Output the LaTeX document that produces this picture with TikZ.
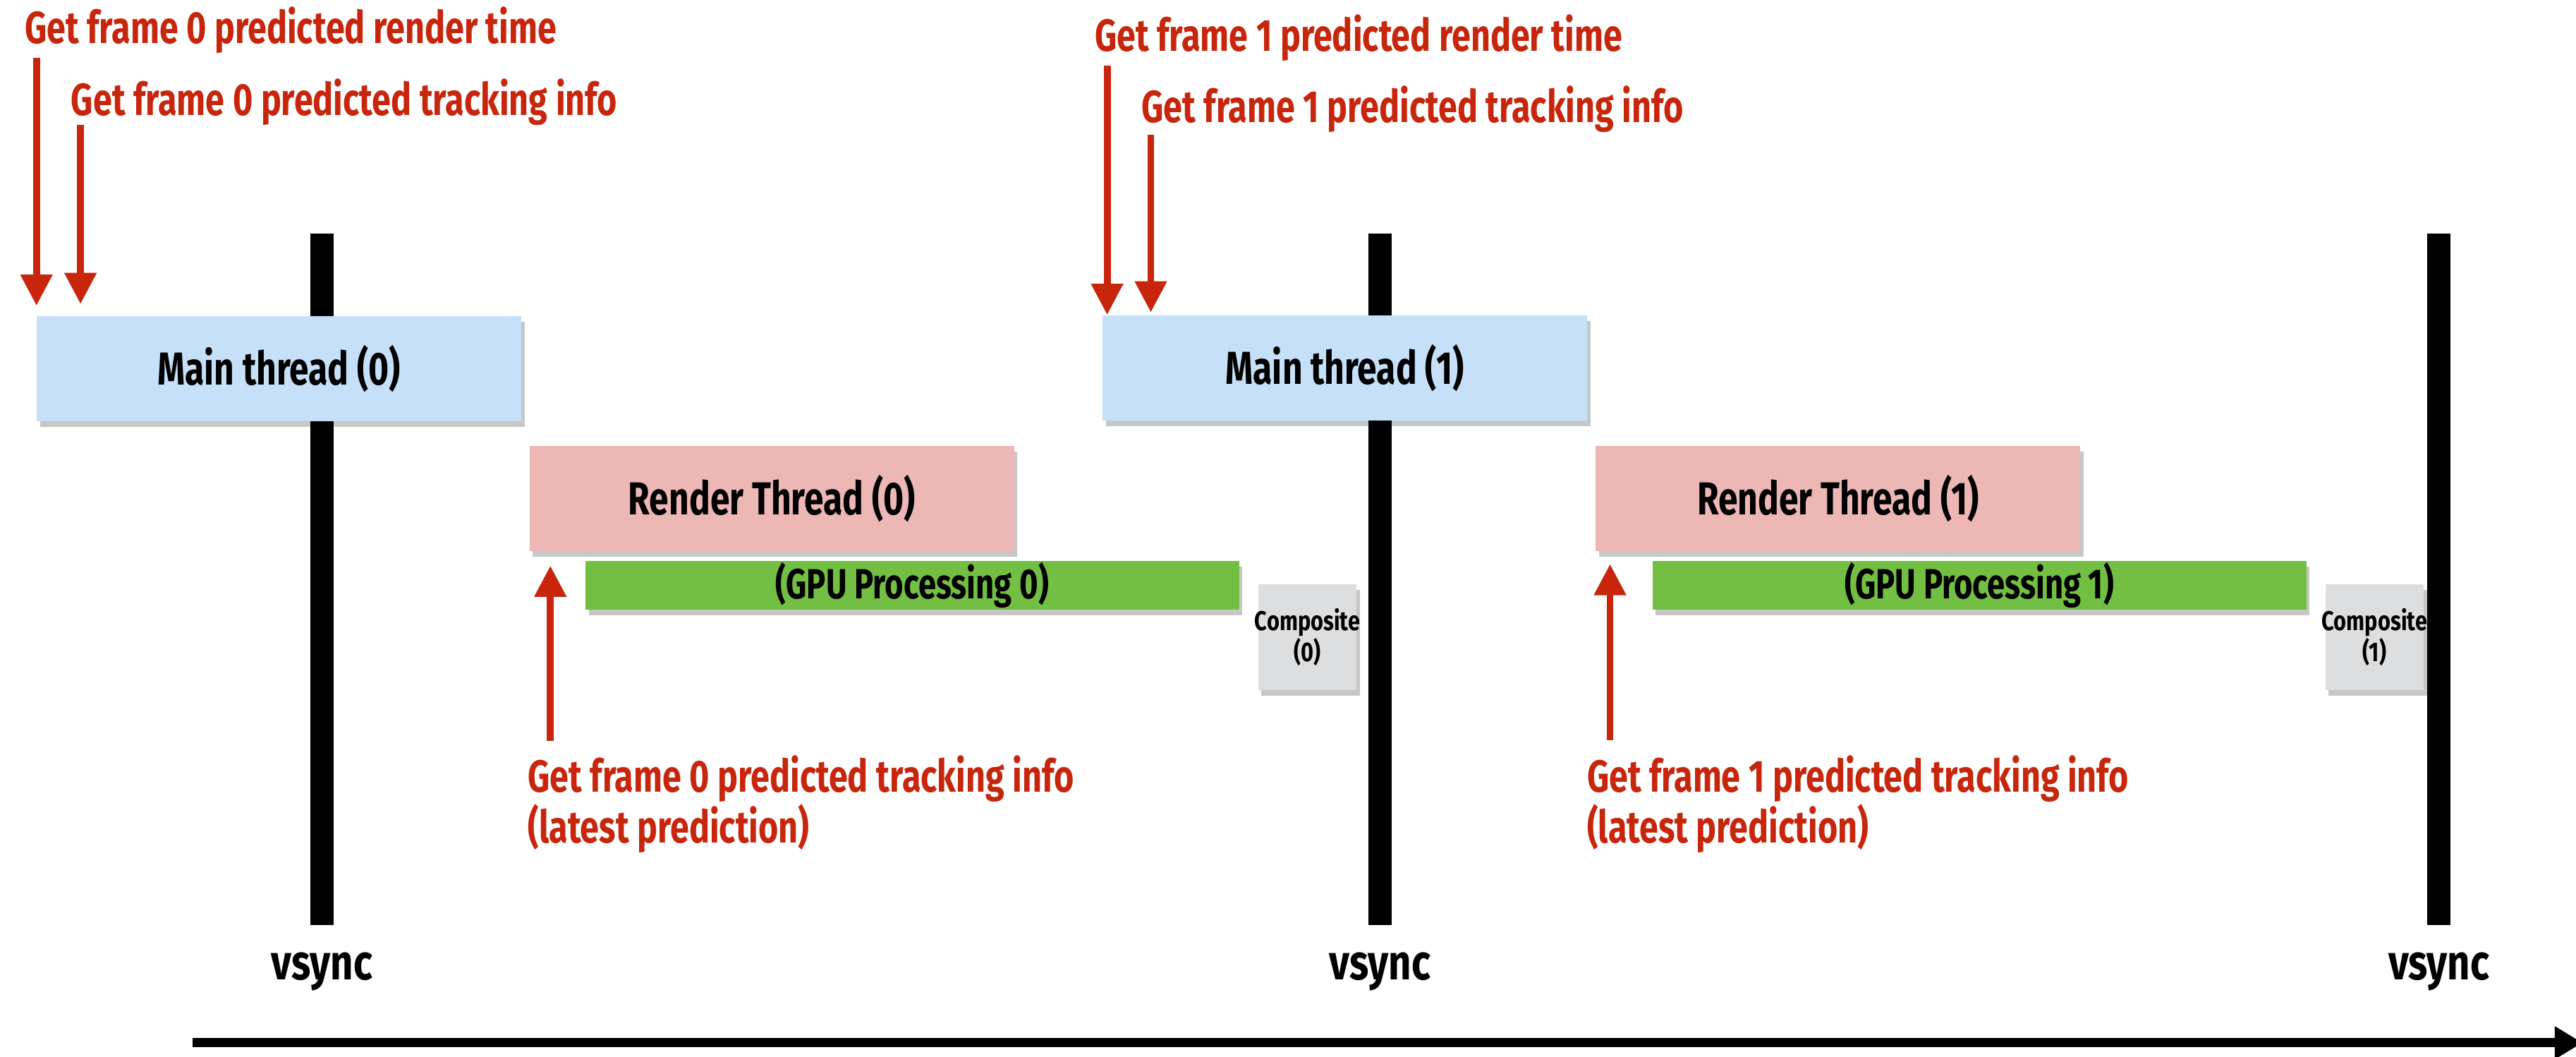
\documentclass[tikz,border=0pt]{standalone}
\usepackage{fontspec}
\setmainfont{Fira Sans}
\newfontfamily\narrowfont{Fira Sans}[FakeStretch=0.76]
\newfontfamily\widefont{Fira Sans}[FakeStretch=0.8]
\usetikzlibrary{arrows.meta, positioning, shadows}
\definecolor{predred}{RGB}{200,38,12}
\definecolor{mainblue}{RGB}{197,224,248}
\definecolor{renderpink}{RGB}{237,183,181}
\definecolor{gpugreen}{RGB}{114,191,68}
\definecolor{compgray}{RGB}{221,222,224}

\begin{document}
\begin{tikzpicture}[x=0.02cm, y=-0.02cm,
  predlbl/.style={font=\narrowfont\bfseries\fontsize{15.6}{17.6}\selectfont, text=predred, inner sep=0pt, anchor=base west, align=left},
  predarrow/.style={-{Triangle[length=10.8pt, width=10.6pt]}, line width=2.4pt, predred},
  task/.style={anchor=north west, inner sep=0pt, font=\narrowfont\bfseries\fontsize{16}{18}\selectfont,
    drop shadow={shadow xshift=0.04cm, shadow yshift=-0.07cm, fill=black, opacity=0.22}},
  mainbox/.style={task, fill=mainblue, minimum width=5.9cm, minimum height=1.28cm},
  renderbox/.style={task, fill=renderpink, minimum width=5.9cm, minimum height=1.28cm},
  gpubox/.style={task, fill=gpugreen, minimum width=7.96cm, minimum height=0.59cm, font=\narrowfont\bfseries\fontsize{14.6}{16}\selectfont},
  compbox/.style={task, fill=compgray, minimum width=1.2cm, minimum height=1.29cm, align=center, font=\widefont\bfseries\fontsize{9.4}{10.8}\selectfont},
  vbar/.style={line width=0.28cm},
  vlbl/.style={font=\widefont\bfseries\fontsize{17.2}{20}\selectfont, anchor=base, inner sep=0pt},
  timearrow/.style={-{Triangle[length=0.34cm, width=0.38cm]}, line width=3.1pt}
]
\useasboundingbox (0,0) rectangle (1568,643);

% vsync bars
\draw[vbar] (196,142) -- (196,563);
\draw[vbar] (840,142) -- (840,563);
\draw[vbar] (1484.5,142) -- (1484.5,563);
\node[vlbl] (vs0) at (196,596) {vsync};
\node[vlbl] (vs1) at (840,596) {vsync};
\node[vlbl] (vs2) at (1484.5,596) {vsync};

% frame 0
\node[mainbox] (mt0) at (22,192) {Main thread (0)};
\node[renderbox] (rt0) at (322,271) {Render Thread (0)};
\node[gpubox] (gpu0) at (356,341) {(GPU Processing 0)};
\node[compbox] (comp0) at (765.5,355) {\makebox[0pt]{Composite}\\(0)};

% frame 1
\node[mainbox] (mt1) at (670.7,191.6) {Main thread (1)};
\node[renderbox] (rt1) at (971,271) {Render Thread (1)};
\node[gpubox] (gpu1) at (1005.5,341) {(GPU Processing 1)};
\node[compbox] (comp1) at (1415,355) {\makebox[0pt]{Composite}\\(1)};

% prediction labels
\node[predlbl] (rend0) at (14.8,26.6) {Get frame 0 predicted render time};
\node[predlbl] (track0) at (43,70) {Get frame 0 predicted tracking info};
\node[predlbl] (late0) at (321,513) {Get frame 0 predicted tracking info\\(latest prediction)};
\node[predlbl] (rend1) at (666,31.2) {Get frame 1 predicted render time};
\node[predlbl] (track1) at (694.6,74.7) {Get frame 1 predicted tracking info};
\node[predlbl] (late1) at (965.7,513) {Get frame 1 predicted tracking info\\(latest prediction)};

% prediction arrows
\coordinate (rend0a) at (22.2,35);
\coordinate (track0a) at (49,76);
\coordinate (late0a) at (335,451);
\coordinate (rend1a) at (673.9,40);
\coordinate (track1a) at (700.5,82);
\coordinate (late1a) at (980,450.5);
\draw[predarrow, shorten >=0.12cm] (rend0a) -- (rend0a |- mt0.north);
\draw[predarrow, shorten >=0.14cm] (track0a) -- (track0a |- mt0.north);
\draw[predarrow, shorten >=0.17cm] (late0a) -- (late0a |- rt0.south);
\draw[predarrow] (rend1a) -- (rend1a |- mt1.north);
\draw[predarrow, shorten >=0.03cm] (track1a) -- (track1a |- mt1.north);
\draw[predarrow, shorten >=0.15cm] (late1a) -- (late1a |- rt1.south);

% time axis
\coordinate (t0) at (117,634.5);
\coordinate (t1) at (1572,634.5);
\draw[timearrow] (t0) -- (t1);
\end{tikzpicture}
\end{document}
